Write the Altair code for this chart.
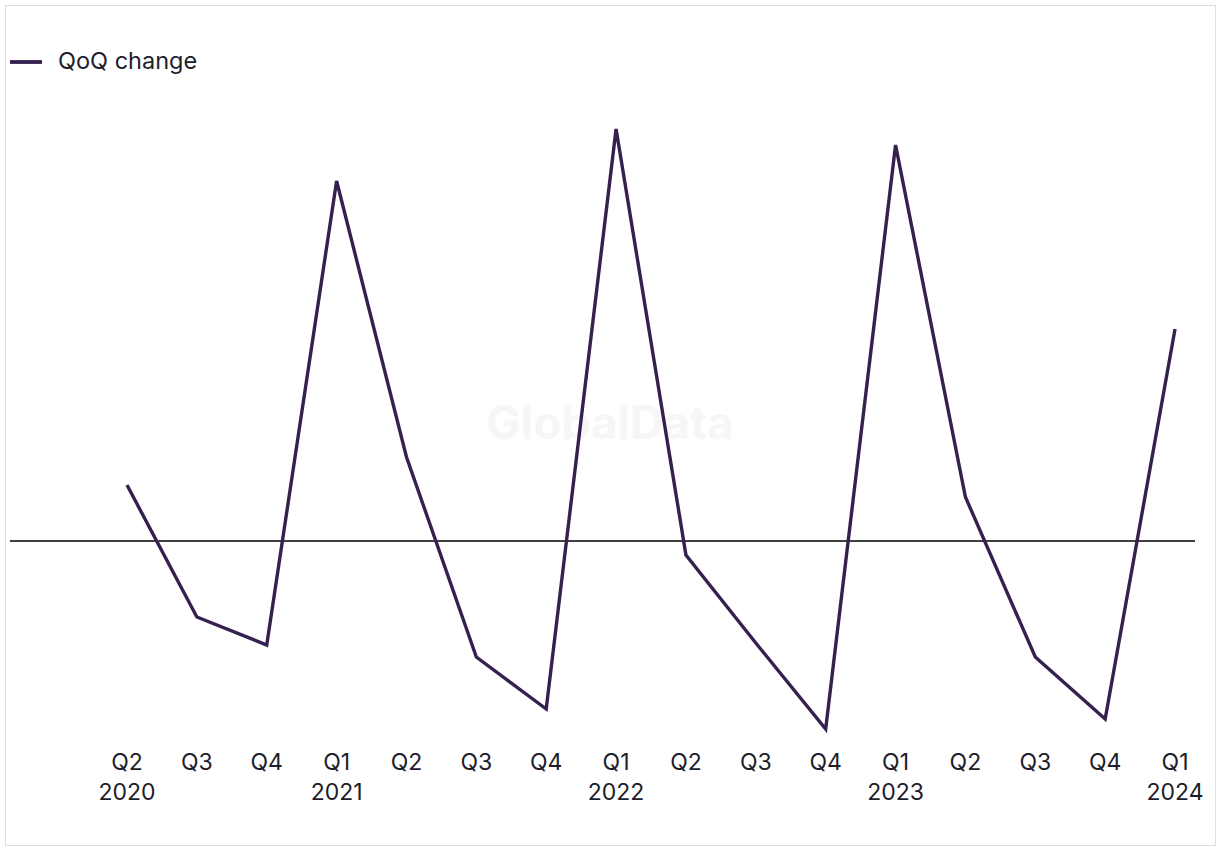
import altair as alt

quarters = ["Q2", "Q3", "Q4", "Q1", "Q2", "Q3", "Q4", "Q1", "Q2", "Q3", "Q4", "Q1", "Q2", "Q3", "Q4", "Q1"]
years = ["2020", "", "", "2021", "", "", "", "2022", "", "", "", "2023", "", "", "", "2024"]
qoq_change = [1.4, -1.9, -2.6, 9.0, 2.1, -2.9, -4.2, 10.3, -0.35, -2.55, -4.7, 9.9, 1.1, -2.9, -4.45, 5.3]
series_name = "QoQ change"

rows = [{"pos": i, "chg": v, "qtr": q, "yr": y}
        for i, (v, q, y) in enumerate(zip(qoq_change, quarters, years))]
main_data = alt.Data(values=rows)
zero_data = alt.Data(values=[{"z": 0}])
one_data = alt.Data(values=[{"name": series_name, "mark": "GlobalData"}])

FONT = "Inter"
LINE_COLOR = "#35204f"
TEXT_COLOR = "#1d1d2b"

xs = alt.Scale(domain=[-1.746, 15.572], nice=False, zero=False)
ys = alt.Scale(domain=[-7.6, 13.4], nice=False, zero=False)

watermark = alt.Chart(one_data).mark_text(font=FONT, fontSize=46, fontWeight="bold", color="#f6f6f6",
                                         align="center", baseline="middle").encode(
    x=alt.value(605), y=alt.value(420), text="mark:N")

zero = alt.Chart(zero_data).mark_rule(color="#000000", strokeWidth=1.4).encode(
    y=alt.Y("z:Q", scale=ys, axis=None), x=alt.value(5), x2=alt.value(1190))

line = alt.Chart(main_data).mark_line(strokeWidth=3.4, color=LINE_COLOR).encode(
    x=alt.X("pos:Q", scale=xs, axis=None),
    y=alt.Y("chg:Q", scale=ys, axis=None))

q_labels = alt.Chart(main_data).mark_text(font=FONT, fontSize=23, color=TEXT_COLOR,
                                         baseline="middle", align="center").encode(
    x=alt.X("pos:Q", scale=xs, axis=None), y=alt.value(758), text="qtr:N")

y_labels = alt.Chart(main_data).mark_text(font=FONT, fontSize=23, color=TEXT_COLOR,
                                         baseline="middle", align="center").encode(
    x=alt.X("pos:Q", scale=xs, axis=None), y=alt.value(788), text="yr:N")

legend_line = alt.Chart(one_data).mark_rule(color=LINE_COLOR, strokeWidth=3.8).encode(
    x=alt.value(5), x2=alt.value(37), y=alt.value(57))

legend_text = alt.Chart(one_data).mark_text(font=FONT, fontSize=23.5, color=TEXT_COLOR,
                                           baseline="middle", align="left").encode(
    x=alt.value(53), y=alt.value(57), text="name:N")

chart = (watermark + zero + line + q_labels + y_labels + legend_line + legend_text).properties(
    width=1210, height=840)

chart.save("out.html", embed_options={"renderer": "svg", "actions": False})
